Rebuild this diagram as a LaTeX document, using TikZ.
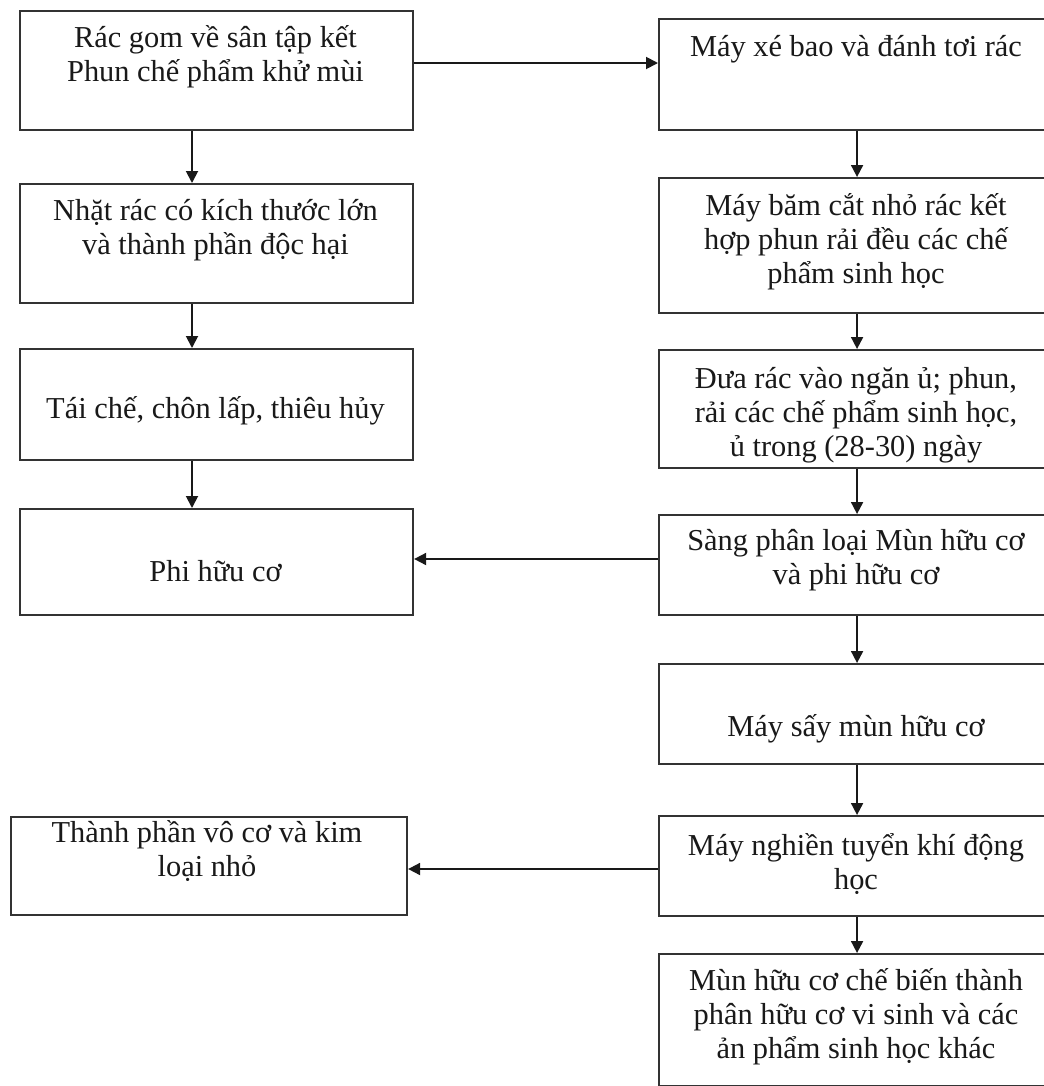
\documentclass[tikz,border=0pt]{standalone}
\usepackage{fontspec}
\setmainfont{Liberation Serif}
\usetikzlibrary{arrows.meta}
\newcommand\mkbox[5]{\node[boxnode,minimum width=#4*0.75pt,minimum height=#5*0.75pt] (#1) at (#2,#3) {};}
\begin{document}
\begin{tikzpicture}[x=0.75pt,y=-0.75pt,
  boxnode/.style={draw=black!80,line width=1.6pt,rectangle,inner sep=0pt,anchor=north west},
  txt/.style={font=\fontsize{22.8}{25.5}\selectfont,align=center,anchor=center,inner sep=0pt,text=black!90},
  arr/.style={draw=black!90,line width=1.4pt,-{Triangle[length=9pt,width=9pt]}}]
\useasboundingbox[fill=white] (0,0) rectangle (1044,1086);
\clip (0,0) rectangle (1044,1086);
% left column boxes
\mkbox{L1}{19}{10}{393}{119}
\mkbox{L2}{19}{183}{393}{119}
\mkbox{L3}{19}{348}{393}{111}
\mkbox{L4}{19}{508}{393}{106}
\mkbox{L5}{10}{816}{396}{98}
% right column boxes
\mkbox{R1}{658}{18}{396}{111}
\mkbox{R2}{658}{177}{396}{135}
\mkbox{R3}{658}{349}{396}{118}
\mkbox{R4}{658}{514}{396}{100}
\mkbox{R5}{658}{663}{396}{100}
\mkbox{R6}{658}{815}{396}{100}
\mkbox{R7}{658}{953}{396}{132}
% texts
\node[txt] (tL1) at (215.5,57) {Rác gom về sân tập kết\\Phun chế phẩm khử mùi};
\node[txt] (tL2) at (215.5,230.5) {Nhặt rác có kích thước lớn\\và thành phần độc hại};
\node[txt] (tL3) at (215.5,411) {Tái chế, chôn lấp, thiêu hủy};
\node[txt] (tL4) at (215.5,571) {Phi hữu cơ};
\node[txt] (tL5) at (207,851) {Thành phần vô cơ và kim\\loại nhỏ};
\node[txt] (tR1) at (856,49) {Máy xé bao và đánh tơi rác};
\node[txt] (tR2) at (856,242) {Máy băm cắt nhỏ rác kết\\hợp phun rải đều các chế\\phẩm sinh học};
\node[txt] (tR3) at (856,415) {Đưa rác vào ngăn ủ; phun,\\rải các chế phẩm sinh học,\\ủ trong (28-30) ngày};
\node[txt] (tR4) at (856,560.5) {Sàng phân loại Mùn hữu cơ\\và phi hữu cơ};
\node[txt] (tR5) at (856,729) {Máy sấy mùn hữu cơ};
\node[txt] (tR6) at (856,863.5) {Máy nghiền tuyển khí động\\học};
\node[txt] (tR7) at (856,1017) {Mùn hữu cơ chế biến thành\\phân hữu cơ vi sinh và các\\ản phẩm sinh học khác};
% connectors
\draw[arr] (L1.east |- 0,63) -- (R1.west |- 0,63);
\draw[arr] (L1.south -| 192,0) -- (L2.north -| 192,0);
\draw[arr] (L2.south -| 192,0) -- (L3.north -| 192,0);
\draw[arr] (L3.south -| 192,0) -- (L4.north -| 192,0);
\draw[arr] (R1.south) -- (R2.north);
\draw[arr] (R2.south) -- (R3.north);
\draw[arr] (R3.south) -- (R4.north);
\draw[arr] (R4.south) -- (R5.north);
\draw[arr] (R5.south) -- (R6.north);
\draw[arr] (R6.south) -- (R7.north);
\draw[arr] (R4.west |- 0,559) -- (L4.east |- 0,559);
\draw[arr] (R6.west |- 0,869) -- (L5.east |- 0,869);
\end{tikzpicture}
\end{document}
